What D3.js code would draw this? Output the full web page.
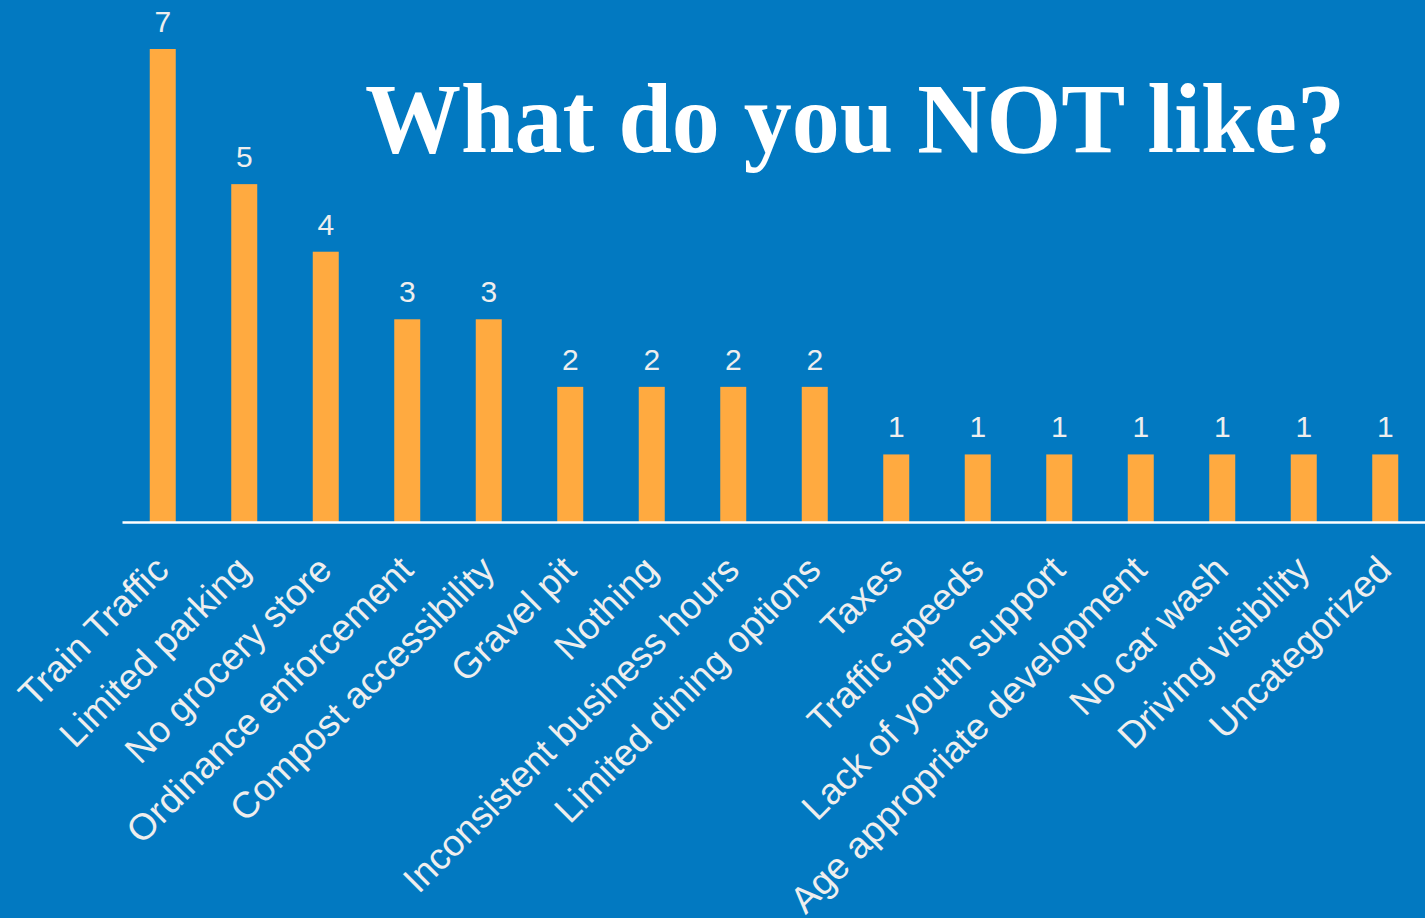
<!DOCTYPE html>
<html>
<head>
<meta charset="utf-8">
<script src="https://cdn.jsdelivr.net/npm/d3@7"></script>
<style>
  html, body { margin: 0; padding: 0; background: #0279C1; }
  svg { display: block; }
</style>
</head>
<body>
<div id="chart"></div>
<script>
const categories = [
  'Train Traffic', 'Limited parking', 'No grocery store', 'Ordinance enforcement',
  'Compost accessibility', 'Gravel pit', 'Nothing', 'Inconsistent business hours',
  'Limited dining options', 'Taxes', 'Traffic speeds', 'Lack of youth support',
  'Age appropriate development', 'No car wash', 'Driving visibility', 'Uncategorized'
]
const counts = [7, 5, 4, 3, 3, 2, 2, 2, 2, 1, 1, 1, 1, 1, 1, 1]
const title = 'What do you NOT like?'

const width = 1425
const height = 918
const baseY = 522

const svg = d3.select('#chart')
  .append('svg')
  .attr('width', width)
  .attr('height', height)

svg.append('rect')
  .attr('width', width)
  .attr('height', height)
  .attr('fill', '#0279C1')

const x = d3.scaleBand()
  .domain(categories)
  .range([122, 1426])

const y = d3.scaleLinear()
  .domain([0, 7])
  .range([baseY, 49])

const barW = 26
const data = categories.map((c, i) => ({ name: c, value: counts[i] }))

// bars
svg.append('g').attr('class', 'bars')
  .selectAll('rect')
  .data(data)
  .join('rect')
  .attr('x', d => x(d.name) + x.bandwidth() / 2 - barW / 2)
  .attr('y', d => y(d.value))
  .attr('width', barW)
  .attr('height', d => y(0) - y(d.value))
  .attr('fill', '#FFAA40')

// value labels
svg.append('g').attr('class', 'values')
  .selectAll('text')
  .data(data)
  .join('text')
  .attr('x', d => x(d.name) + x.bandwidth() / 2)
  .attr('y', d => y(d.value) - 17)
  .attr('text-anchor', 'middle')
  .attr('font-family', 'Liberation Sans, Arial, sans-serif')
  .attr('font-size', 30)
  .attr('fill', '#EEEEEE')
  .text(d => d.value)

// axis line
const axis = svg.append('g')
  .attr('transform', `translate(0,${baseY})`)
  .call(d3.axisBottom(x).tickSize(0).tickPadding(0))

axis.select('.domain')
  .attr('stroke', '#FFFFFF')
  .attr('stroke-width', 2.5)

axis.selectAll('.tick text')
  .attr('font-family', 'Liberation Sans, Arial, sans-serif')
  .attr('font-size', 37)
  .attr('fill', '#EEEEEE')
  .attr('text-anchor', 'end')
  .attr('y', 0)
  .attr('dy', 0)
  .attr('transform', 'translate(8,50) rotate(-45)')

// title
svg.append('text')
  .attr('x', 365)
  .attr('y', 152)
  .attr('font-family', 'Liberation Serif, DejaVu Serif, serif')
  .attr('font-weight', 'bold')
  .attr('font-size', 100)
  .attr('fill', '#FFFFFF')
  .attr('textLength', 980)
  .attr('lengthAdjust', 'spacingAndGlyphs')
  .text(title)
</script>
</body>
</html>
